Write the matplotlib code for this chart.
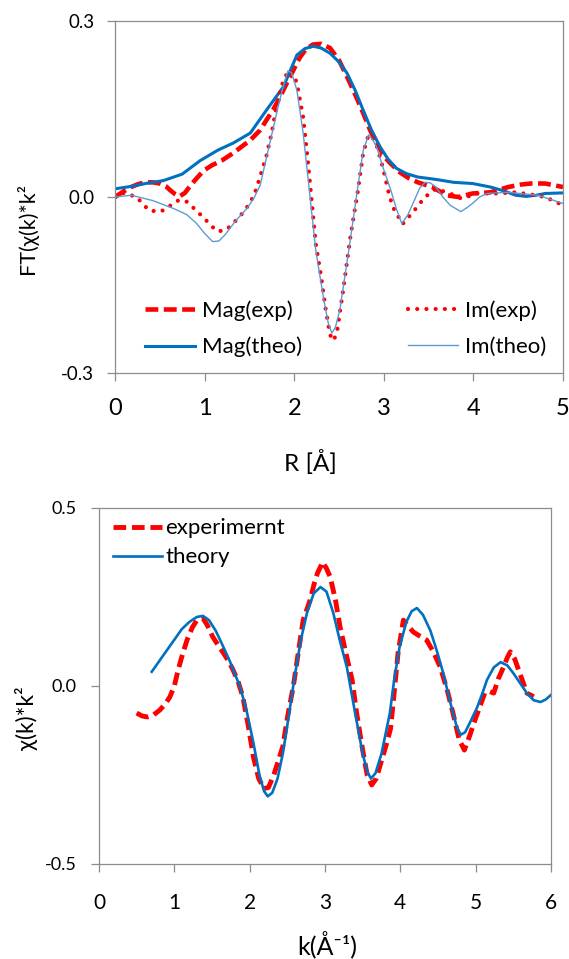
import numpy as np
import matplotlib
matplotlib.use('Agg')
import matplotlib.pyplot as plt

plt.rcParams['font.family'] = ['Lato', 'DejaVu Sans']

# --- painel superior: transformada de Fourier ---
r_mag_theo = [0, 0.18, 0.34, 0.54, 0.75, 0.95, 1.15, 1.32, 1.51, 1.69, 1.88, 2.03, 2.12, 2.21,
              2.3, 2.4, 2.5, 2.59, 2.68, 2.77, 2.86, 2.96, 3.05, 3.14, 3.25, 3.38, 3.58, 3.78,
              3.99, 4.19, 4.35, 4.47, 4.59, 4.7, 4.8, 5.0]
mag_theo = [0.014, 0.018, 0.023, 0.028, 0.039, 0.062, 0.08, 0.092, 0.109, 0.148, 0.188, 0.242,
            0.253, 0.257, 0.254, 0.245, 0.23, 0.211, 0.182, 0.148, 0.115, 0.085, 0.064, 0.049,
            0.04, 0.034, 0.03, 0.025, 0.023, 0.017, 0.01, 0.003, 0.001, 0.003, 0.006, 0.007]

r_mag_exp = [0, 0.1, 0.18, 0.26, 0.34, 0.42, 0.5, 0.57, 0.62, 0.67, 0.72, 0.78, 0.83, 0.9, 0.99,
             1.08, 1.19, 1.32, 1.51, 1.62, 1.69, 1.77, 1.84, 1.92, 1.99, 2.06, 2.13, 2.21, 2.3,
             2.4, 2.5, 2.59, 2.68, 2.77, 2.85, 2.92, 3.01, 3.07, 3.18, 3.28, 3.38, 3.54, 3.7,
             3.83, 3.99, 4.19, 4.39, 4.52, 4.64, 4.8, 4.9, 5.0]
mag_exp = [0.0, 0.01, 0.017, 0.022, 0.025, 0.025, 0.023, 0.018, 0.011, 0.005, 0.001, 0.007,
           0.017, 0.03, 0.045, 0.054, 0.062, 0.075, 0.097, 0.114, 0.131, 0.15, 0.17, 0.195,
           0.216, 0.237, 0.252, 0.26, 0.261, 0.254, 0.233, 0.205, 0.175, 0.143, 0.113, 0.092,
           0.068, 0.058, 0.042, 0.032, 0.025, 0.017, 0.003, 0.0, 0.006, 0.008, 0.017, 0.021,
           0.023, 0.023, 0.02, 0.017]

r_im_exp = [0, 0.1, 0.24, 0.38, 0.5, 0.58, 0.65, 0.72, 0.8, 0.9, 1.0, 1.08, 1.15, 1.25, 1.39,
            1.5, 1.56, 1.62, 1.69, 1.75, 1.8, 1.86, 1.92, 1.95, 1.99, 2.03, 2.1, 2.16, 2.24,
            2.3, 2.35, 2.4, 2.44, 2.48, 2.55, 2.63, 2.71, 2.77, 2.83, 2.88, 2.92, 2.99, 3.05,
            3.1, 3.21, 3.34, 3.46, 3.58, 3.74, 3.87, 4.03, 4.27, 4.47, 4.65, 4.8, 5.0]
im_exp = [0.0, 0.007, 0.0, -0.023, -0.025, -0.02, -0.01, -0.005, -0.008, -0.022, -0.037,
          -0.05, -0.059, -0.055, -0.034, -0.012, 0.006, 0.035, 0.07, 0.11, 0.153, 0.19, 0.211,
          0.216, 0.21, 0.194, 0.136, 0.05, -0.079, -0.135, -0.19, -0.235, -0.245, -0.228,
          -0.155, -0.065, 0.01, 0.075, 0.106, 0.1, 0.088, 0.05, 0.01, -0.017, -0.046, -0.023,
          0.0, 0.014, 0.006, -0.003, 0.006, 0.006, 0.008, 0.004, 0.0, -0.014]

r_im_theo = [0, 0.18, 0.42, 0.66, 0.8, 0.91, 1.0, 1.09, 1.16, 1.23, 1.35, 1.47, 1.55, 1.62,
             1.68, 1.77, 1.83, 1.88, 1.93, 1.97, 2.03, 2.1, 2.17, 2.24, 2.33, 2.38, 2.42, 2.46,
             2.51, 2.61, 2.71, 2.77, 2.83, 2.88, 2.92, 2.99, 3.08, 3.14, 3.2, 3.27, 3.34, 3.4,
             3.46, 3.52, 3.58, 3.66, 3.74, 3.86, 3.93, 3.99, 4.07, 4.15, 4.39, 4.72, 5.0]
im_theo = [0.0, 0.003, -0.006, -0.02, -0.03, -0.045, -0.062, -0.076, -0.075, -0.064, -0.04,
           -0.02, -0.002, 0.02, 0.06, 0.12, 0.16, 0.19, 0.215, 0.212, 0.182, 0.109, 0.01,
           -0.09, -0.175, -0.215, -0.232, -0.222, -0.192, -0.09, 0.017, 0.079, 0.106, 0.097,
           0.085, 0.051, 0.011, -0.02, -0.045, -0.03, -0.006, 0.015, 0.025, 0.024, 0.017, 0.0,
           -0.014, -0.025, -0.018, -0.011, 0.0, 0.006, 0.008, 0.003, -0.011]

# --- painel inferior: chi(k)*k^2 ---
k_theo = [0.7, 0.8, 0.9, 1.0, 1.1, 1.2, 1.3, 1.38, 1.46, 1.55, 1.65, 1.74, 1.81, 1.87, 1.96,
          2.05, 2.13, 2.19, 2.24, 2.3, 2.37, 2.44, 2.5, 2.55, 2.6, 2.68, 2.76, 2.85, 2.94, 3.02,
          3.11, 3.2, 3.29, 3.4, 3.5, 3.56, 3.61, 3.67, 3.75, 3.86, 3.92, 3.99, 4.08, 4.15,
          4.22, 4.3, 4.4, 4.49, 4.57, 4.65, 4.7, 4.75, 4.8, 4.86, 4.93, 5.02, 5.09, 5.15,
          5.24, 5.33, 5.42, 5.5, 5.59, 5.68, 5.77, 5.86, 5.93, 6.0]
chi_theo = [0.04, 0.07, 0.1, 0.13, 0.16, 0.18, 0.194, 0.197, 0.185, 0.155, 0.11, 0.068, 0.03,
            0.0, -0.07, -0.16, -0.25, -0.295, -0.31, -0.3, -0.26, -0.19, -0.11, -0.04, 0.03,
            0.13, 0.205, 0.26, 0.278, 0.265, 0.205, 0.125, 0.053, -0.076, -0.19, -0.24, -0.26,
            -0.245, -0.19, -0.077, 0.02, 0.11, 0.18, 0.21, 0.219, 0.2, 0.155, 0.095, 0.036,
            -0.035, -0.077, -0.115, -0.137, -0.13, -0.1, -0.06, -0.02, 0.017, 0.052, 0.067,
            0.058, 0.036, 0.008, -0.02, -0.04, -0.045, -0.038, -0.025]

k_exp = [0.5, 0.57, 0.64, 0.72, 0.81, 0.88, 0.94, 1.0, 1.05, 1.11, 1.17, 1.24, 1.3, 1.38, 1.44,
         1.51, 1.58, 1.65, 1.72, 1.78, 1.85, 1.91, 1.98, 2.05, 2.12, 2.19, 2.25, 2.32, 2.38,
         2.44, 2.5, 2.58, 2.65, 2.71, 2.8, 2.86, 2.9, 2.97, 3.02, 3.07, 3.14, 3.2, 3.28, 3.36,
         3.42, 3.5, 3.56, 3.62, 3.68, 3.75, 3.82, 3.87, 3.9, 3.97, 4.04, 4.1, 4.17, 4.26, 4.35,
         4.44, 4.53, 4.62, 4.7, 4.78, 4.85, 4.92, 5.0, 5.07, 5.12, 5.18, 5.24, 5.3, 5.37,
         5.42, 5.46, 5.52, 5.57, 5.63, 5.68, 5.77]
chi_exp = [-0.076, -0.084, -0.087, -0.082, -0.067, -0.05, -0.031, 0.0, 0.045, 0.09, 0.13,
           0.165, 0.185, 0.19, 0.17, 0.138, 0.115, 0.093, 0.07, 0.045, 0.01, -0.031, -0.11,
           -0.2, -0.26, -0.288, -0.285, -0.25, -0.21, -0.17, -0.09, 0.0, 0.1, 0.185, 0.24,
           0.29, 0.317, 0.348, 0.33, 0.306, 0.24, 0.166, 0.09, 0.017, -0.076, -0.18, -0.25,
           -0.278, -0.26, -0.21, -0.16, -0.12, -0.058, 0.093, 0.185, 0.17, 0.152, 0.14, 0.129,
           0.095, 0.053, -0.01, -0.077, -0.15, -0.18, -0.14, -0.09, -0.05, -0.02, -0.015,
           -0.02, 0.02, 0.053, 0.08, 0.096, 0.075, 0.045, 0.01, -0.02, -0.03]

vermelho = '#FF0000'
azul = '#0070C0'
azul_claro = '#5B9BD5'
cinza = '#8C8C8C'

W, H = 569, 959
fig = plt.figure(figsize=(W/100, H/100), dpi=100)
ax1 = fig.add_axes([115/W, 1-373/H, 448/W, 352/H])
ax2 = fig.add_axes([99/W, 1-864/H, 452/W, 356/H])

for ax in (ax1, ax2):
    for s in ax.spines.values():
        s.set_color(cinza)
        s.set_linewidth(0.9)
    ax.tick_params(direction='out', length=6, width=0.9, color=cinza)

ax1.tick_params(axis='y', labelsize=13.5, pad=9)
ax1.tick_params(axis='x', labelsize=17, pad=12)
ax2.tick_params(axis='y', labelsize=13, pad=10)
ax2.tick_params(axis='x', labelsize=15, pad=15)

ax1.plot(r_mag_exp, mag_exp, color=vermelho, lw=3.3, linestyle=(0, (2.8, 1.2)), label='Mag(exp)')
ax1.plot(r_mag_theo, mag_theo, color=azul, lw=2.2, label='Mag(theo)')
ax1.plot(r_im_exp, im_exp, color=vermelho, lw=3.0, linestyle=(0, (0.01, 2.2)),
         dash_capstyle='round', label='Im(exp)')
ax1.plot(r_im_theo, im_theo, color=azul_claro, lw=1.0, label='Im(theo)')

ax1.set_xlim(0, 5)
ax1.set_ylim(-0.3, 0.3)
ax1.set_xticks(range(0, 6))
ax1.set_yticks([-0.3, 0.0, 0.3])
ax1.set_yticklabels(['-0.3', '0.0', '0.3'])
ax1.legend(ncol=2, frameon=False, fontsize=16, loc='center left', bbox_to_anchor=(0.067, 0.125),
           borderpad=0, borderaxespad=0, handlelength=2.25, handletextpad=0.3,
           columnspacing=4.8, labelspacing=0.7)

ax2.plot(k_exp, chi_exp, color=vermelho, lw=3.5, linestyle=(0, (2.6, 1.2)), label='experimernt')
ax2.plot(k_theo, chi_theo, color=azul, lw=1.9, label='theory')
ax2.set_xlim(0, 6)
ax2.set_ylim(-0.5, 0.5)
ax2.set_xticks(range(0, 7))
ax2.set_yticks([-0.5, 0.0, 0.5])
ax2.set_yticklabels(['-0.5', '0.0', '0.5'])
ax2.legend(frameon=False, fontsize=16, loc='center left', bbox_to_anchor=(0.031, 0.902),
           borderpad=0, borderaxespad=0, handlelength=2.2, handletextpad=0.15,
           labelspacing=0.4)

# rótulos dos eixos, posicionados como no original
fig.text(310/W, 1-463/H, 'R [Å]', fontsize=17.5, ha='center', va='center')
fig.text(27/W, 1-229/H, 'FT(χ(k)*k²', fontsize=15.5, rotation=90, ha='center', va='center')
fig.text(327/W, 1-944/H, 'k(Å⁻¹)', fontsize=18, ha='center', va='center')
fig.text(27/W, 1-718/H, 'χ(k)*k²', fontsize=16.5, rotation=90, ha='center', va='center')

fig.savefig('out.png', dpi=100)
